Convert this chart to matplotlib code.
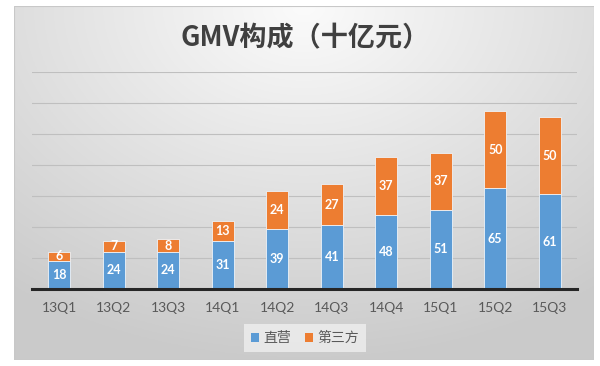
"""
GMV composition stacked bar chart (直营 vs 第三方).
"""

import numpy as np
import matplotlib
matplotlib.use('Agg')
import matplotlib.pyplot as plt
from matplotlib.patches import Patch, Rectangle

# ── Data ────────────────────────────────────────────────────────────────────
quarters = ['13Q1', '13Q2', '13Q3', '14Q1', '14Q2', '14Q3', '14Q4', '15Q1', '15Q2', '15Q3']
direct   = [18, 24, 24, 31, 39, 41, 48, 51, 65, 61]
third    = [6, 7, 8, 13, 24, 27, 37, 37, 50, 50]

BLUE   = '#5B9BD5'
ORANGE = '#ED7D31'
CJK    = ['Noto Sans CJK SC', 'DejaVu Sans']

plt.rcParams['font.family'] = CJK

fig = plt.figure(figsize=(6, 3.66), dpi=100)
fig.patch.set_facecolor('white')

# ── Gradient chart frame ────────────────────────────────────────────────────
bg = fig.add_axes([14 / 600, 1 - 360 / 366, 580 / 600, 354 / 366], zorder=0)
yy, xx = np.mgrid[0:1:200j, -1:1:300j]
shade = 0.985 - 0.19 * np.clip(np.sqrt((xx * 0.6) ** 2 + (yy * 1.0) ** 2), 0, 1)
bg.imshow(np.dstack([shade] * 3), aspect='auto', extent=[0, 1, 0, 1], origin='upper')
bg.set_xlim(0, 1)
bg.set_ylim(0, 1)
bg.axis('off')
bg.add_patch(Rectangle((0, 0), 1, 1, fill=False, edgecolor='#c8c8c8', linewidth=0.8,
                       transform=bg.transAxes))

# ── Bars ────────────────────────────────────────────────────────────────────
ax = fig.add_axes([32 / 600, 1 - 289 / 366, 545 / 600, 217 / 366], zorder=1)
ax.set_facecolor('none')
x = np.arange(len(quarters))
w = 0.41
ax.bar(x, direct, width=w, color=BLUE, edgecolor='#eef3f8', linewidth=0.6, zorder=3)
ax.bar(x, third, width=w, bottom=direct, color=ORANGE, edgecolor='#eef3f8',
       linewidth=0.6, zorder=3)

for i in range(len(quarters)):
    ax.text(x[i], direct[i] / 2, str(direct[i]), ha='center', va='center',
            color='white', fontsize=9, fontweight='bold', family=['Lato', 'DejaVu Sans'], zorder=4)
    ax.text(x[i], direct[i] + third[i] / 2, str(third[i]), ha='center', va='center',
            color='white', fontsize=9, fontweight='bold', family=['Lato', 'DejaVu Sans'], zorder=4)

ax.set_xlim(-0.5, len(quarters) - 0.5)
ax.set_ylim(0, 140)
ax.set_yticks(np.arange(0, 141, 20))
ax.set_yticklabels([])
ax.tick_params(axis='y', length=0)
ax.grid(axis='y', color='#bfbfbf', linewidth=0.8, zorder=0)
for s in ['top', 'right', 'left']:
    ax.spines[s].set_visible(False)
ax.spines['bottom'].set_color('#262626')
ax.spines['bottom'].set_linewidth(2.2)
ax.spines['bottom'].set_zorder(5)

ax.set_xticks(x)
ax.set_xticklabels(quarters, fontsize=10, color='#595959', family=['Lato', 'DejaVu Sans'])
ax.tick_params(axis='x', length=0, pad=9)

# ── Title & legend ──────────────────────────────────────────────────────────
fig.text(0.508, 1 - 38 / 366, 'GMV构成（十亿元）', ha='center', va='center',
         fontsize=19.5, fontweight='bold', color='#404040', family=CJK)

handles = [Patch(facecolor=BLUE, label='直营'), Patch(facecolor=ORANGE, label='第三方')]
leg = fig.legend(handles=handles, loc='center', bbox_to_anchor=(0.508, 1 - 338 / 366),
                 ncol=2, frameon=True, fontsize=10, handlelength=0.6, handleheight=0.6,
                 handletextpad=0.3, columnspacing=1.0, borderpad=0.5, fancybox=False)
leg.get_frame().set_facecolor('#efefef')
leg.get_frame().set_edgecolor('none')
leg.get_frame().set_alpha(0.8)
for t in leg.get_texts():
    t.set_color('#595959')

fig.savefig('out.png', dpi=100, facecolor=fig.get_facecolor())
